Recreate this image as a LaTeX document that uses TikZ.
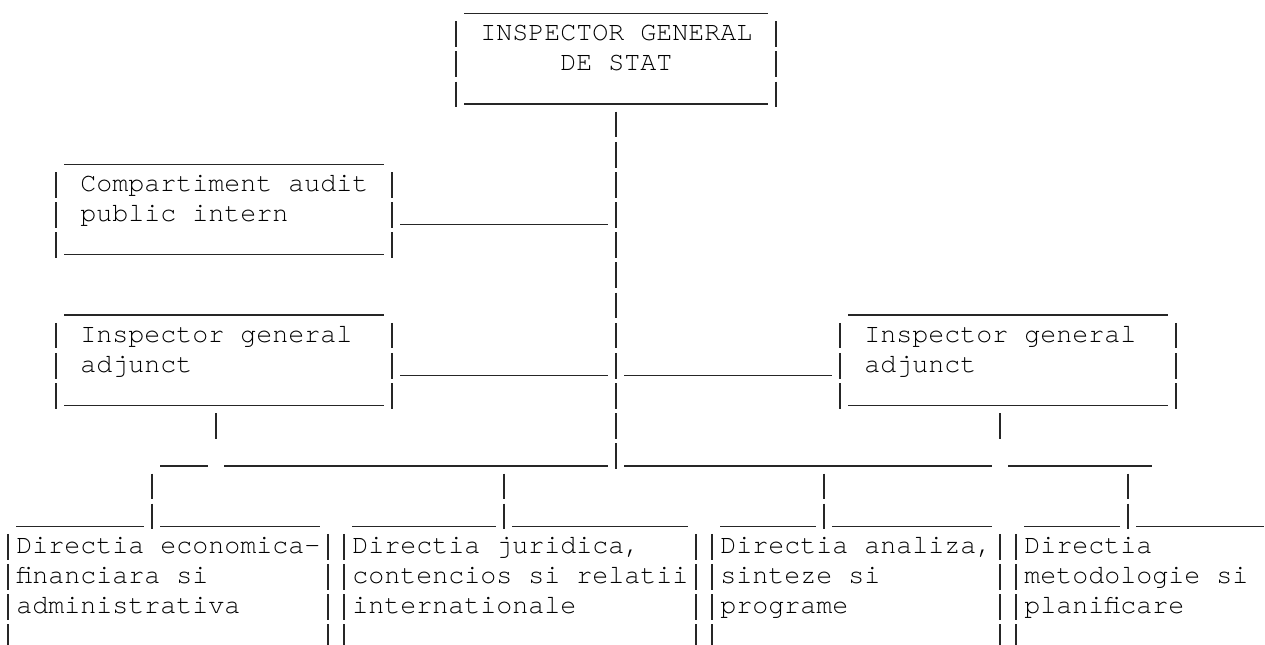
\documentclass[tikz,border=0pt]{standalone}
\usepackage{fontspec}
\newfontfamily\chartfont{TeX Gyre Cursor}

% one column = 16px, one text row = 30.15px (y grows downwards, baseline of row r at y=r)
\tikzset{
  chartline/.style={line width=0.65pt, black!85},
  pipeline/.style={chartline, dash pattern=on 12.85pt off 2.225pt},
  boxtext/.style={anchor=base west, inner sep=0pt, align=left,
    font=\chartfont\fontsize{13.33pt}{15.075pt}\selectfont},
}
% underscores on row #1, from column #2 to column #3
\newcommand{\ubar}[3]{\draw[chartline] (#2,#1+0.1) -- (#3+1,#1+0.1);}
% pipes in column #1, from row #2 to row #3
\newcommand{\pbar}[3]{\draw[pipeline] (#1+0.5,#2-0.647) -- (#1+0.5,#3+0.206);}
% box: left column, right column, top row, bottom row
\newcommand{\asciibox}[4]{%
  \ubar{#3}{#1+1}{#2-1}
  \pbar{#1}{#3+1}{#4}
  \pbar{#2}{#3+1}{#4}
  \ubar{#4}{#1+1}{#2-1}}

\begin{document}
\begin{tikzpicture}[x=8pt, y=-15.075pt]
  \useasboundingbox (0,-0.352) rectangle (79.0625,21.008);

  % Inspector general de stat (text nodes sit on the baseline of their last line)
  \asciibox{28}{48}{0}{3}
  \node[boxtext, align=center] (isg) at (30,2) {INSPECTOR GENERAL\\DE STAT};
  \pbar{38}{4}{15}

  % Compartiment audit
  \asciibox{3}{24}{5}{8}
  \node[boxtext] (audit) at (5,7) {Compartiment audit\\public intern};
  \ubar{7}{25}{37}

  % Inspectori generali adjuncti
  \asciibox{3}{24}{10}{13}
  \node[boxtext] (adjL) at (5,12) {Inspector general\\adjunct};
  \ubar{12}{25}{37}
  \ubar{12}{39}{51}
  \asciibox{52}{73}{10}{13}
  \node[boxtext] (adjR) at (54,12) {Inspector general\\adjunct};

  % Bara de distributie
  \pbar{13}{14}{14}
  \pbar{62}{14}{14}
  \ubar{15}{10}{12}
  \ubar{15}{14}{37}
  \ubar{15}{39}{61}
  \ubar{15}{63}{71}
  \foreach \c in {9,31,51,70} {
    \pbar{\c}{16}{17}
  }

  % Directii
  \foreach \a/\b in {1/8,10/19,22/30,32/42,45/50,52/61,64/69,71/78} {
    \ubar{17}{\a}{\b}
  }
  \foreach \c in {0,20,21,43,44,62,63} {
    \pbar{\c}{18}{21}
  }
  \node[boxtext] (dirEco) at (1,20) {Directia economica-\\financiara si\\administrativa};
  \node[boxtext] (dirJur) at (22,20) {Directia juridica,\\contencios si relatii\\internationale};
  \node[boxtext] (dirAna) at (45,20) {Directia analiza,\\sinteze si\\programe};
  \node[boxtext] (dirMet) at (64,20) {Directia\\metodologie si\\planificare};
\end{tikzpicture}
\end{document}
